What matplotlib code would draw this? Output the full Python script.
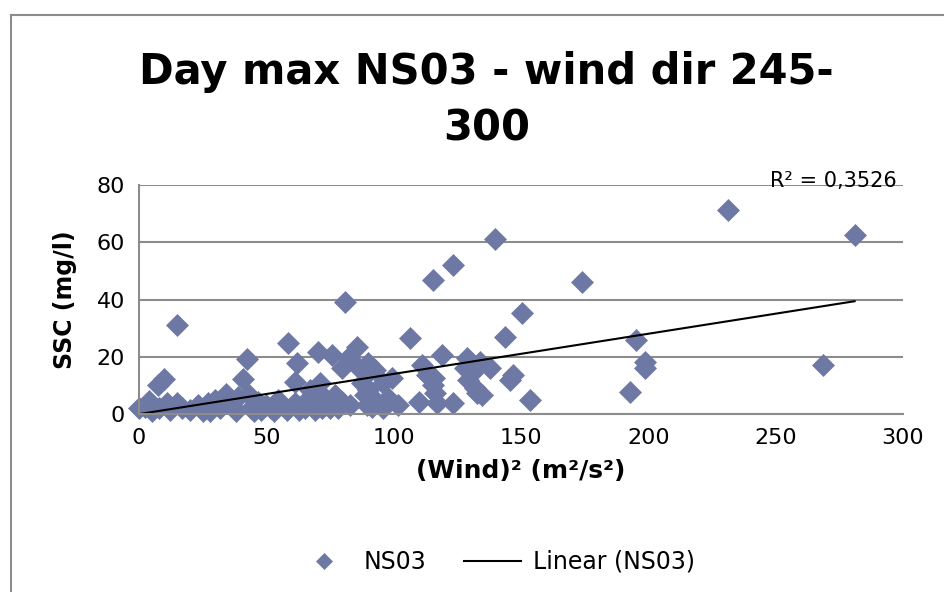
import numpy as np
import matplotlib
matplotlib.use("Agg")
import matplotlib.pyplot as plt
from matplotlib.lines import Line2D

# (Wind)^2 en m2/s2 i SSC en mg/l, llegits del gràfic
wind2 = [0, 2.4, 4, 5, 7.5, 8, 9.8, 11, 12, 15, 14.9, 17, 20, 23, 25, 27, 28, 30, 32, 34,
         36, 38, 39, 40.8, 42.4, 43, 44, 45, 46.7, 48, 50, 52, 53, 54.6, 56, 58, 58.5,
         61.3, 61.3, 62, 63, 65, 66, 67, 68, 69, 70.3, 71, 71.8, 72, 73, 75, 75.8, 77,
         78, 79.7, 79.7, 80.9, 82, 83, 85.6, 86, 87.6, 88.7, 89.5, 90, 90, 90, 91.5,
         92.7, 92.7, 95.8, 96, 97.8, 99.3, 101.7, 106.4, 110, 111, 113, 115.4, 115.4,
         116, 116.2, 117, 119, 123.3, 123.3, 128, 128.8, 129, 130.7, 132, 132.7, 134,
         134.7, 137.8, 139.8, 143.7, 145.7, 147, 150.4, 153.5, 174, 192.8, 195, 198.7,
         198.7, 231.3, 268.5, 281]
ssc = [2, 2.4, 4.5, 1, 10.1, 2, 12.2, 4, 1.5, 4, 31.1, 2, 1.5, 3, 1, 4, 1, 5, 2, 7,
       3, 1, 6, 12.2, 19.3, 6.6, 2, 1, 4.2, 1.5, 3, 2, 1, 4.9, 3, 1.4, 24.8,
       3.8, 11.2, 17.7, 1.5, 2, 4.9, 8.4, 3, 1.4, 21.7, 10.8, 6.6, 2, 3, 2, 20.6, 6.6,
       2, 4.2, 16, 39.1, 19.6, 3, 23.5, 16.4, 10.8, 6.6, 3.1, 14.3, 17.7, 8.4, 2.4,
       15.4, 4.9, 10.8, 2, 5.6, 12.6, 3.1, 26.5, 4.2, 17, 13.6, 10.1, 46.8,
       12.6, 7.3, 3.8, 20.6, 3.8, 52, 16, 19.6, 11.9, 14.3, 9.1, 7.3, 18.2,
       6.6, 16, 61.1, 26.9, 11.9, 13.6, 35.3, 4.9, 46.1, 7.7, 25.9, 18.2,
       16.1, 71.3, 17.1, 62.5]
r2_label = "R² = 0,3526"

x = np.array(wind2)
y = np.array(ssc)
slope, intercept = np.polyfit(x, y, 1)  # recta de tendència

fig = plt.figure(figsize=(9.45, 5.92), dpi=100)
# marc de l'àrea del gràfic
fig.add_artist(Line2D([10.5 / 945, 1], [1 - 14.5 / 592, 1 - 14.5 / 592], color="#8c8c8c", lw=1.5))
fig.add_artist(Line2D([10.5 / 945, 10.5 / 945], [0, 1 - 14.5 / 592], color="#8c8c8c", lw=1.5))

ax = fig.add_axes([139 / 945, 1 - 414 / 592, 764 / 945, 229 / 592])
ax.set_xlim(0, 300)
ax.set_ylim(0, 80)
ax.set_xticks(range(0, 301, 50))
ax.set_yticks(range(0, 81, 20))
ax.grid(axis="y", color="#8c8c8c", lw=1.5)
ax.set_axisbelow(True)
for s in ["top", "right"]:
    ax.spines[s].set_visible(False)
for s in ["left", "bottom"]:
    ax.spines[s].set_color("#8c8c8c")
    ax.spines[s].set_linewidth(1.5)
ax.tick_params(length=0, labelsize=16, pad=10)

ax.plot(x, y, "D", color="#6e78a5", ms=11, mec="#6e78a5", mew=0.5, label="NS03", clip_on=False)
xl = np.array([0, x.max()])
ax.plot(xl, slope * xl + intercept, color="black", lw=1.5, label="Linear (NS03)")

ax.text(0.992, 1.017, r2_label, transform=ax.transAxes, ha="right", va="center", fontsize=15)
ax.set_xlabel("(Wind)² (m²/s²)", fontsize=18, fontweight="bold", labelpad=8)
ax.set_ylabel("SSC (mg/l)", fontsize=17, fontweight="bold", labelpad=14)

fig.text(0.515, 1 - 100 / 592, "Day max NS03 - wind dir 245-\n300", ha="center", va="center",
         fontsize=30, fontweight="bold", linespacing=1.45)

fig.legend(loc="center", bbox_to_anchor=(495 / 945, 1 - 562 / 592), ncol=2, frameon=False,
           fontsize=17, handlelength=2.4, columnspacing=1.6, handletextpad=0.5, markerscale=0.75)

fig.savefig("out.png", dpi=100)
